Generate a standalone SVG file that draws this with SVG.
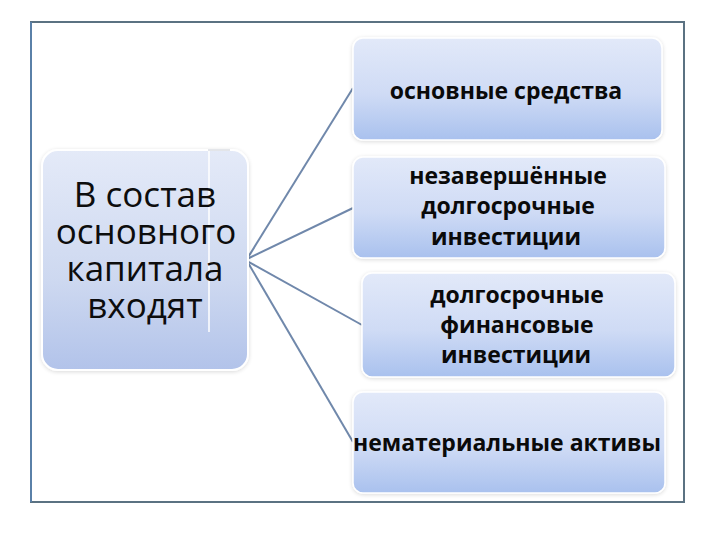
<svg xmlns="http://www.w3.org/2000/svg" width="720" height="540" viewBox="0 0 720 540">
<defs>
<linearGradient id="g" x1="0" y1="0" x2="0" y2="1">
<stop offset="0" stop-color="#e2e9f9"/>
<stop offset="0.55" stop-color="#cfdbf5"/>
<stop offset="1" stop-color="#a9c1ee"/>
</linearGradient>
<linearGradient id="gl" x1="0" y1="0" x2="0" y2="1">
<stop offset="0" stop-color="#e4eaf8"/>
<stop offset="0.6" stop-color="#cdd8f0"/>
<stop offset="1" stop-color="#b2c3ea"/>
</linearGradient>
<filter id="sh" x="-5%" y="-5%" width="110%" height="115%">
<feGaussianBlur in="SourceAlpha" stdDeviation="2"/>
<feOffset dx="0" dy="1"/>
<feComponentTransfer><feFuncA type="linear" slope="0.15"/></feComponentTransfer>
<feMerge><feMergeNode/><feMergeNode in="SourceGraphic"/></feMerge>
</filter>
</defs>
<style>
.box{fill:url(#g);stroke:#ffffff;stroke-width:1.5;filter:url(#sh)}
.lt{font-family:"Open Sans","Noto Sans","DejaVu Sans",sans-serif;font-size:35px;fill:#0d0d0d;text-anchor:middle}
.rt{font-family:"Open Sans","Noto Sans","DejaVu Sans",sans-serif;font-size:23px;font-weight:bold;fill:#0a0a0a;text-anchor:middle}
.con{stroke:#7088ab;stroke-width:2;fill:none}
</style>
<rect width="720" height="540" fill="#ffffff"/>
<rect x="31" y="22" width="653" height="480" fill="#ffffff" stroke="#5b7282" stroke-width="2"/>
<line x1="31" y1="22" x2="31" y2="502" stroke="#5a80a8" stroke-width="2"/>

<g id="connectors">
<line class="con" x1="247" y1="259" x2="353" y2="88"/>
<line class="con" x1="247" y1="259" x2="353" y2="208"/>
<line class="con" x1="247" y1="261" x2="362" y2="325"/>
<line class="con" x1="247" y1="261" x2="353" y2="442"/>
</g>

<g id="node-main">
<rect x="42" y="150" width="206" height="220" rx="16" fill="url(#gl)" stroke="#ffffff" stroke-width="2" filter="url(#sh)"/>
<line x1="209" y1="150" x2="209" y2="332" stroke="#ffffff" stroke-width="1.5"/>
<line x1="208" y1="150" x2="230" y2="150" stroke="#c8ccd4" stroke-width="1"/>
<text class="lt" x="145" y="207">В состав</text>
<text class="lt" x="146" y="244">основного</text>
<text class="lt" x="145" y="281">капитала</text>
<text class="lt" x="145" y="318">входят</text>
</g>

<g id="node-1">
<rect class="box" x="353" y="38" width="309" height="102" rx="10"/>
<text class="rt" x="506" y="99">основные средства</text>
</g>

<g id="node-2">
<rect class="box" x="353" y="157" width="312" height="101" rx="10"/>
<text class="rt" x="508" y="184">незавершённые</text>
<text class="rt" x="508" y="214">долгосрочные</text>
<text class="rt" x="506" y="245">инвестиции</text>
</g>

<g id="node-3">
<rect class="box" x="362" y="273" width="313" height="104" rx="10"/>
<text class="rt" x="517" y="303">долгосрочные</text>
<text class="rt" x="517" y="333">финансовые</text>
<text class="rt" x="516" y="363">инвестиции</text>
</g>

<g id="node-4">
<rect class="box" x="353" y="392" width="312" height="101" rx="10"/>
<text class="rt" x="507" y="451">нематериальные активы</text>
</g>
</svg>
